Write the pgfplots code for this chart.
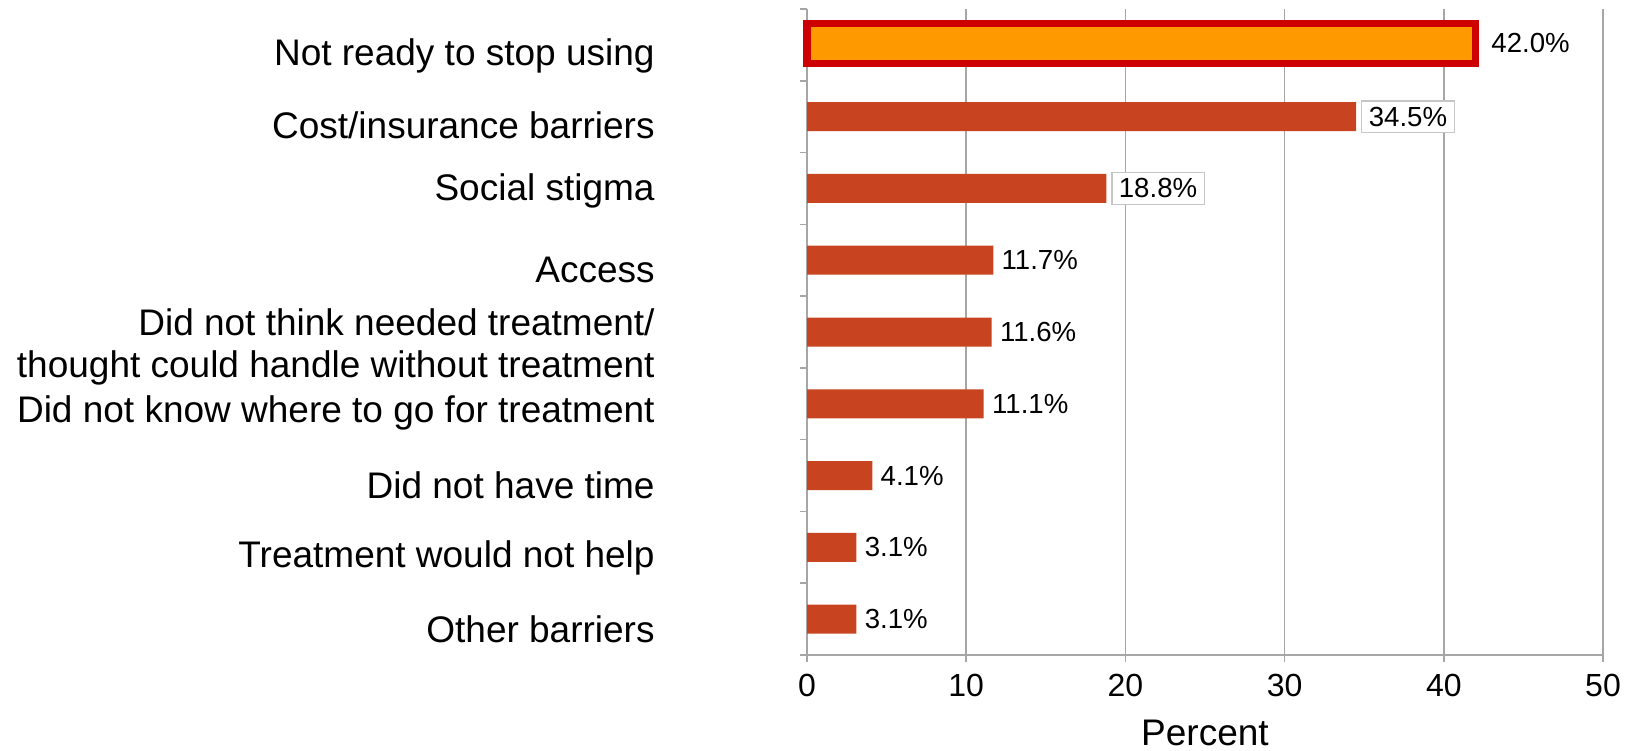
\documentclass[border=0pt]{standalone}
\usepackage{fontspec}
\setmainfont{Liberation Sans}
\usepackage{pgfplots}
\pgfplotsset{compat=1.18}
\definecolor{barred}{RGB}{200,68,32}
\definecolor{hlorange}{RGB}{255,153,0}
\definecolor{hlborder}{RGB}{204,0,0}
\definecolor{gridgray}{RGB}{166,166,166}
\begin{document}
\begin{tikzpicture}
\useasboundingbox (0,0) rectangle (813pt,-375pt);
\begin{axis}[
  at={(403.5pt,-327.5pt)}, anchor=south west,
  scale only axis, width=398pt, height=323pt,
  xmin=0, xmax=50, ymin=-0.5, ymax=8.5,
  clip=false,
  /pgf/number format/assume math mode=true,
  axis lines=left,
  axis line style={-, draw=gridgray, line width=0.8pt},
  xmajorgrids, grid style={draw=gridgray, line width=0.8pt},
  tick align=outside, major tick length=3.5pt,
  tick style={draw=gridgray, line width=0.8pt},
  xtick={0,10,...,50},
  xticklabel style={font=\fontsize{16}{19}\selectfont, anchor=base, yshift=-17pt},
  ytick={-0.5,0.5,...,8.5},
  yticklabels={},
  extra y ticks={-0.14,0.85,1.86,2.87,3.79,4.86,5.96,6.88,7.85},
  extra y tick labels={Other barriers,Treatment would not help,Did not have time,Did not know where to go for treatment,{Did not think needed treatment/\\thought could handle without treatment},Access,Social stigma,Cost/insurance barriers,Not ready to stop using},
  extra y tick style={major tick length=0pt, yticklabel style={font=\fontsize{18.5}{21.3}\selectfont, align=right, anchor=east, inner sep=0pt, xshift=-76pt}},
  xlabel={Percent},
  xlabel style={font=\fontsize{18.5}{22}\selectfont, at={(axis description cs:0.5,0)}, anchor=base, yshift=-45pt},
  point meta=x,
  nodes near coords={\pgfmathprintnumber[fixed,fixed zerofill,precision=1]{\pgfplotspointmeta}\%},
  every node near coord/.append style={font=\fontsize{13.8}{16}\selectfont, anchor=west, text=black},
]
\addplot[xbar, bar shift=0pt, bar width=20pt, fill=hlorange, draw=hlborder, line width=3.8pt,
  every node near coord/.append style={xshift=3pt, inner sep=3pt}]
  coordinates {(42.0,8.02)};
\addplot[xbar, bar shift=0pt, bar width=14.5pt, fill=barred, draw=none,
  every node near coord/.append style={draw=gray!45, line width=0.6pt, fill=white, inner xsep=3.5pt, inner ysep=3pt, xshift=2.5pt}]
  coordinates {(34.5,7) (18.8,6)};
\addplot[xbar, bar shift=0pt, bar width=14.5pt, fill=barred, draw=none,
  every node near coord/.append style={xshift=1pt, inner sep=3pt}]
  coordinates {(11.7,5) (11.6,4) (11.1,3) (4.1,2) (3.1,1) (3.1,0)};
\end{axis}
\end{tikzpicture}
\end{document}
